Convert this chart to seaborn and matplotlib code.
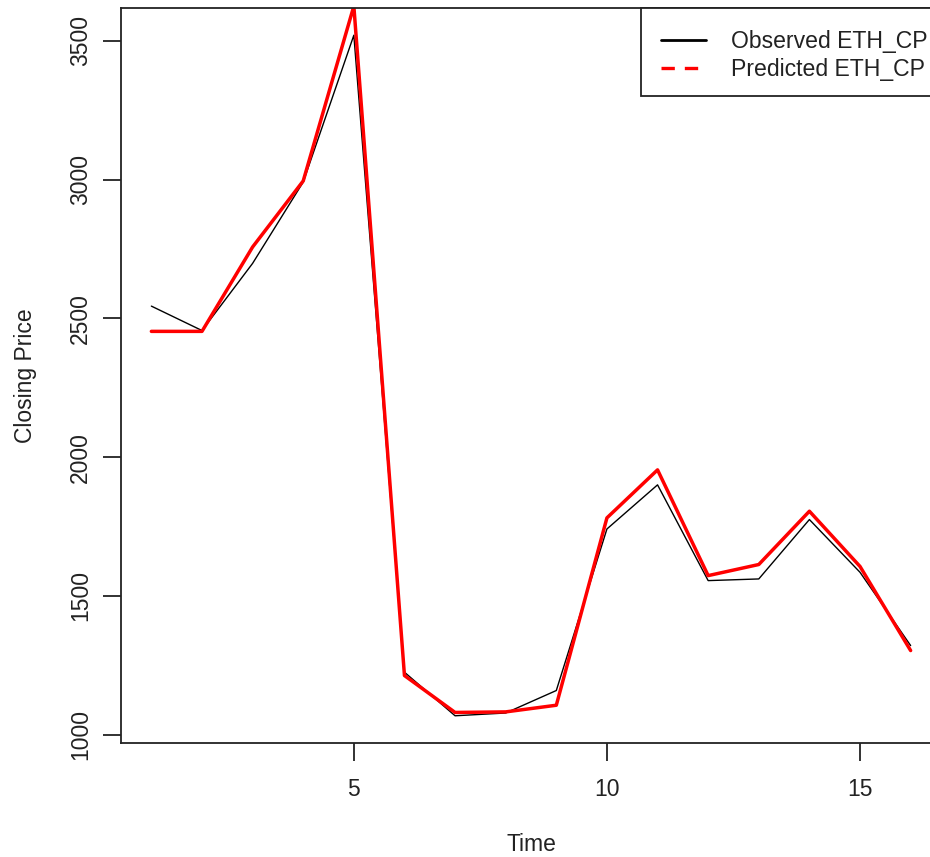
import matplotlib
matplotlib.use("Agg")
import matplotlib.pyplot as plt
import seaborn as sns
import pandas as pd
import numpy as np
from matplotlib.lines import Line2D
from matplotlib.patches import Rectangle

time = list(range(1, 17))
observed = [2544, 2456, 2698, 2991, 3520, 1225, 1068, 1078, 1159, 1741, 1900, 1555, 1561, 1775, 1585, 1321]
predicted = [2453, 2453, 2757, 2995, 3625, 1213, 1080, 1082, 1106, 1781, 1954, 1573, 1613, 1805, 1606, 1303]
x_ticks = [5, 10, 15]
y_ticks = [1000, 1500, 2000, 2500, 3000, 3500]
labels = ["Observed ETH_CP", "Predicted ETH_CP"]

sns.set_theme(style="white")
plt.rcParams["font.family"] = ["Liberation Sans", "DejaVu Sans"]

df = pd.DataFrame({"Time": time, "Observed": observed, "Predicted": predicted})

fig = plt.figure(figsize=(9.30, 8.57), dpi=100)
AX_W, AX_H = 941 - 121, 743 - 8
ax = fig.add_axes([121/930, 1 - 743/857, AX_W/930, AX_H/857])

sns.lineplot(data=df, x="Time", y="Observed", ax=ax, color="black", linewidth=1.0)
sns.lineplot(data=df, x="Time", y="Predicted", ax=ax, color="#ff0000", linewidth=2.5)

ymin, ymax = min(observed), max(observed)
pad = 0.04 * (ymax - ymin)
ax.set_ylim(ymin - pad, ymax + pad)
xpad = 0.04 * (max(time) - min(time))
ax.set_xlim(min(time) - xpad, max(time) + xpad)

ax.set_xticks(x_ticks)
ax.set_yticks(y_ticks)
ax.set_yticklabels([str(v) for v in y_ticks], rotation=90, va="center")
ax.tick_params(axis="both", which="major", direction="out", length=13, width=1.3,
               color="#222222", labelsize=16.5, labelcolor="#222222",
               bottom=True, left=True)
ax.tick_params(axis="x", pad=12)
ax.tick_params(axis="y", pad=8)
for s in ax.spines.values():
    s.set_visible(True)
    s.set_color("#222222")
    s.set_linewidth(1.3)

ax.set_xlabel("Time", fontsize=16.5, color="#222222", labelpad=23)
ax.set_ylabel("Closing Price", fontsize=16.5, color="#222222", labelpad=23)

# legend box (R-style, touching top-right of the plot region)
box = Rectangle(((641 - 121)/AX_W, (743 - 96)/AX_H), (941 - 641)/AX_W, 88/AX_H,
                transform=ax.transAxes, facecolor="white", edgecolor="#222222",
                linewidth=1.3, zorder=4, clip_on=False)
ax.add_patch(box)

handles = [Line2D([0], [0], color="black", lw=2.0),
           Line2D([0], [0], color="#ff0000", lw=2.4, ls=(0, (4, 3)))]
leg = ax.legend(handles, labels, loc="upper right", bbox_to_anchor=(1.0, 1 - 8/AX_H),
                borderaxespad=0, frameon=False, fontsize=16.6, handlelength=1.95,
                handletextpad=1.05, borderpad=0.6, labelspacing=0.22)
leg.set_zorder(5)
for t in leg.get_texts():
    t.set_color("#222222")

fig.savefig("out.png", dpi=100)
